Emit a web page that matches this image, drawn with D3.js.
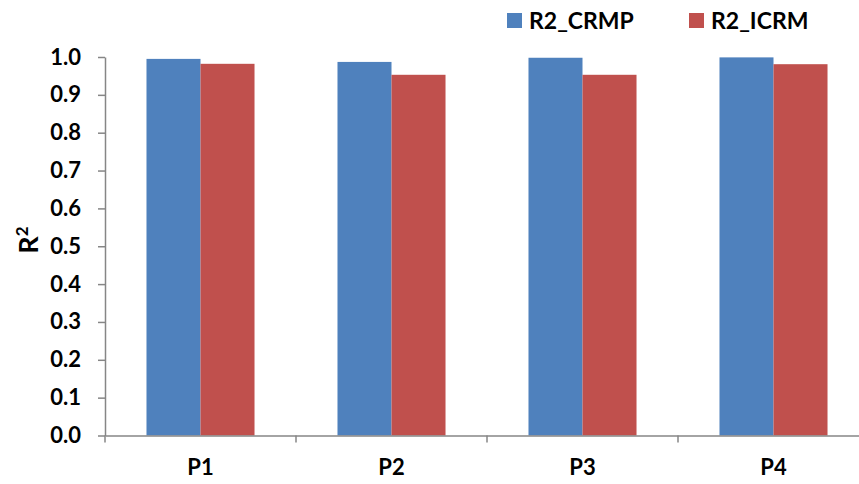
<!DOCTYPE html>
<html>
<head>
<meta charset="utf-8">
<script src="https://cdn.jsdelivr.net/npm/d3@7"></script>
<style>
  body { margin: 0; background: #fff; }
  svg { display: block; font-family: Lato, "Open Sans", sans-serif; font-weight: bold; }
</style>
</head>
<body>
<svg id="chart" width="859" height="484"></svg>
<script>
// Goodness of fit (R²) for each pattern, two models
const categories = ["P1", "P2", "P3", "P4"];
const seriesNames = ["R2_CRMP", "R2_ICRM"];
const r2Crmp = [0.995, 0.987, 0.998, 0.999];
const r2Icrm = [0.982, 0.953, 0.953, 0.981];
const yTicks = [0, 0.1, 0.2, 0.3, 0.4, 0.5, 0.6, 0.7, 0.8, 0.9, 1.0];
const colors = ["#4F81BD", "#C0504D"];

const series = [r2Crmp, r2Icrm];
const svg = d3.select("#chart");

const margin = { left: 105, top: 57, bottom: 48 };
const plotW = 764;
const height = 484;

const x = d3.scaleBand().domain(categories).range([margin.left, margin.left + plotW]).paddingInner(0).paddingOuter(0);
// two bars per category, about 54px each, centred in the band
const inner = d3.scaleBand().domain(seriesNames).range([0, x.bandwidth()]).paddingInner(0).paddingOuter(0.768);
const y = d3.scaleLinear().domain([0, 1]).range([height - margin.bottom - 0.5, margin.top]);

// Bars
categories.forEach((c, i) => {
  series.forEach((s, j) => {
    svg.append("rect")
      .attr("x", x(c) + inner(seriesNames[j]))
      .attr("y", y(s[i]))
      .attr("width", inner.bandwidth())
      .attr("height", y(0) - y(s[i]))
      .attr("fill", colors[j]);
  });
});

// Y axis
const yAxis = d3.axisLeft(y).tickValues(yTicks).tickFormat(d3.format(".1f")).tickSize(7).tickSizeOuter(0);
const gy = svg.append("g").attr("transform", `translate(${margin.left},0)`).call(yAxis);
gy.select(".domain").attr("stroke", "#868686").attr("stroke-width", 1.5);
gy.selectAll(".tick line").attr("stroke", "#868686").attr("stroke-width", 1.5);
gy.selectAll(".tick text").attr("x", -24).attr("fill", "#000")
  .style("font-size", "22px").style("font-family", "Lato, sans-serif").style("font-weight", "bold");

// X axis
const xAxis = d3.axisBottom(x).tickSize(0).tickSizeOuter(0);
const gx = svg.append("g").attr("transform", `translate(0,${y(0)})`).call(xAxis);
gx.select(".domain").attr("stroke", "#868686").attr("stroke-width", 1.5);
gx.selectAll(".tick text").attr("y", 24).attr("fill", "#000")
  .style("font-size", "22px").style("font-family", "Lato, sans-serif").style("font-weight", "bold");
// category separators
gx.selectAll(".sep").data(categories).enter().append("line")
  .attr("x1", d => x(d)).attr("x2", d => x(d))
  .attr("y1", 0).attr("y2", 7)
  .attr("stroke", "#868686").attr("stroke-width", 1.5);

// Y label
const yl = svg.append("text")
  .attr("transform", "translate(38,240) rotate(-90)")
  .attr("text-anchor", "middle")
  .style("font-size", "27px").attr("fill", "#000");
yl.append("tspan").text("R");
yl.append("tspan").attr("dy", -10).style("font-size", "17px").text("2");

// Legend
const legendX = [507, 689];
seriesNames.forEach((n, j) => {
  svg.append("rect").attr("x", legendX[j]).attr("y", 13).attr("width", 15).attr("height", 15).attr("fill", colors[j]);
  svg.append("text").attr("x", legendX[j] + 22).attr("y", 29)
    .style("font-size", "23px").attr("fill", "#000").text(n);
});
</script>
</body>
</html>
